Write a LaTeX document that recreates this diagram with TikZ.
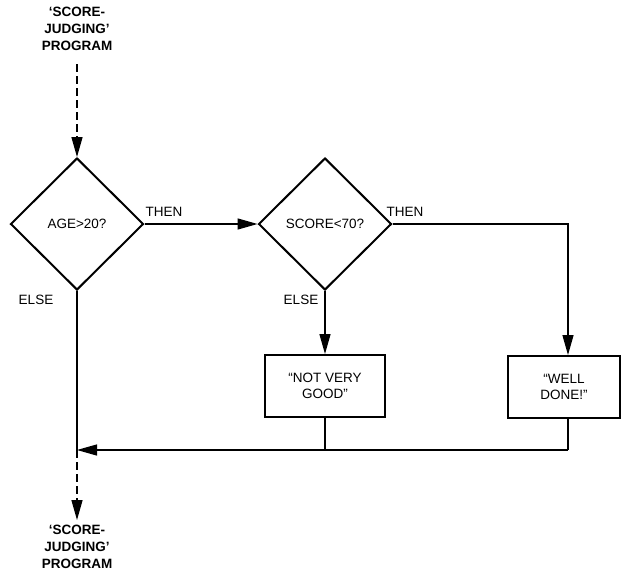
\documentclass[tikz,border=0pt]{standalone}
\usepackage{fontspec}
\setmainfont{Liberation Sans}
\usetikzlibrary{shapes.geometric,arrows.meta}
\begin{document}
\begin{tikzpicture}[x=1pt,y=-1pt,
  font=\fontsize{13.5}{16.5}\selectfont,
  line/.style={line width=1.3pt},
  arr/.style={line, -{Triangle[length=20pt,width=11pt]}},
  dec/.style={diamond, draw, line width=2pt, minimum width=133pt, minimum height=132pt, inner sep=0pt},
  outbox/.style={draw, line width=2pt, minimum width=120pt, minimum height=62pt, align=center, inner sep=2pt},
  prog/.style={font=\fontsize{13.5}{17}\selectfont\bfseries, align=center},
  lbl/.style={inner sep=1pt}]
\useasboundingbox (0,0) rectangle (621,573);
\node[prog] (t) at (77,29) {‘SCORE-\\JUDGING’\\PROGRAM};
\node[dec] (d1) at (77,224) {AGE>20?};
\node[dec] (d2) at (325,224) {SCORE<70?};
\node[outbox] (b1) at (325,386) {“NOT VERY\\GOOD”};
\node[outbox, minimum width=112pt] (b2) at (564,387) {“WELL\\DONE!”};
\node[prog] (bt) at (77,547) {‘SCORE-\\JUDGING’\\PROGRAM};
\coordinate (ts) at (77,64);
\coordinate (j) at (77,450);
\coordinate (c2) at (568,224);
\coordinate (b1e) at (325,450);
\coordinate (b2e) at (568,450);
\coordinate (be) at (77,520);
\draw[arr, dashed, dash pattern=on 8pt off 4pt] (ts) -- (d1.north);
\draw[arr] (d1.east) -- (d2.west);
\draw[arr] (d2.south) -- (b1.north);
\draw[arr] (d2.east) -- (c2) -- (b2.north -| c2);
\draw[line] (d1.south) -- (j);
\draw[line] (b1.south) -- (b1e);
\draw[line] (b2.south -| b2e) -- (b2e);
\draw[arr] (b2e) -- (j);
\draw[arr, dashed, dash pattern=on 8pt off 4pt] (j) -- (be);
\node[lbl] (l1) at (164,212) {THEN};
\node[lbl] (l2) at (405,212) {THEN};
\node[lbl] (l3) at (36,300) {ELSE};
\node[lbl] (l4) at (301,300) {ELSE};
\end{tikzpicture}
\end{document}
